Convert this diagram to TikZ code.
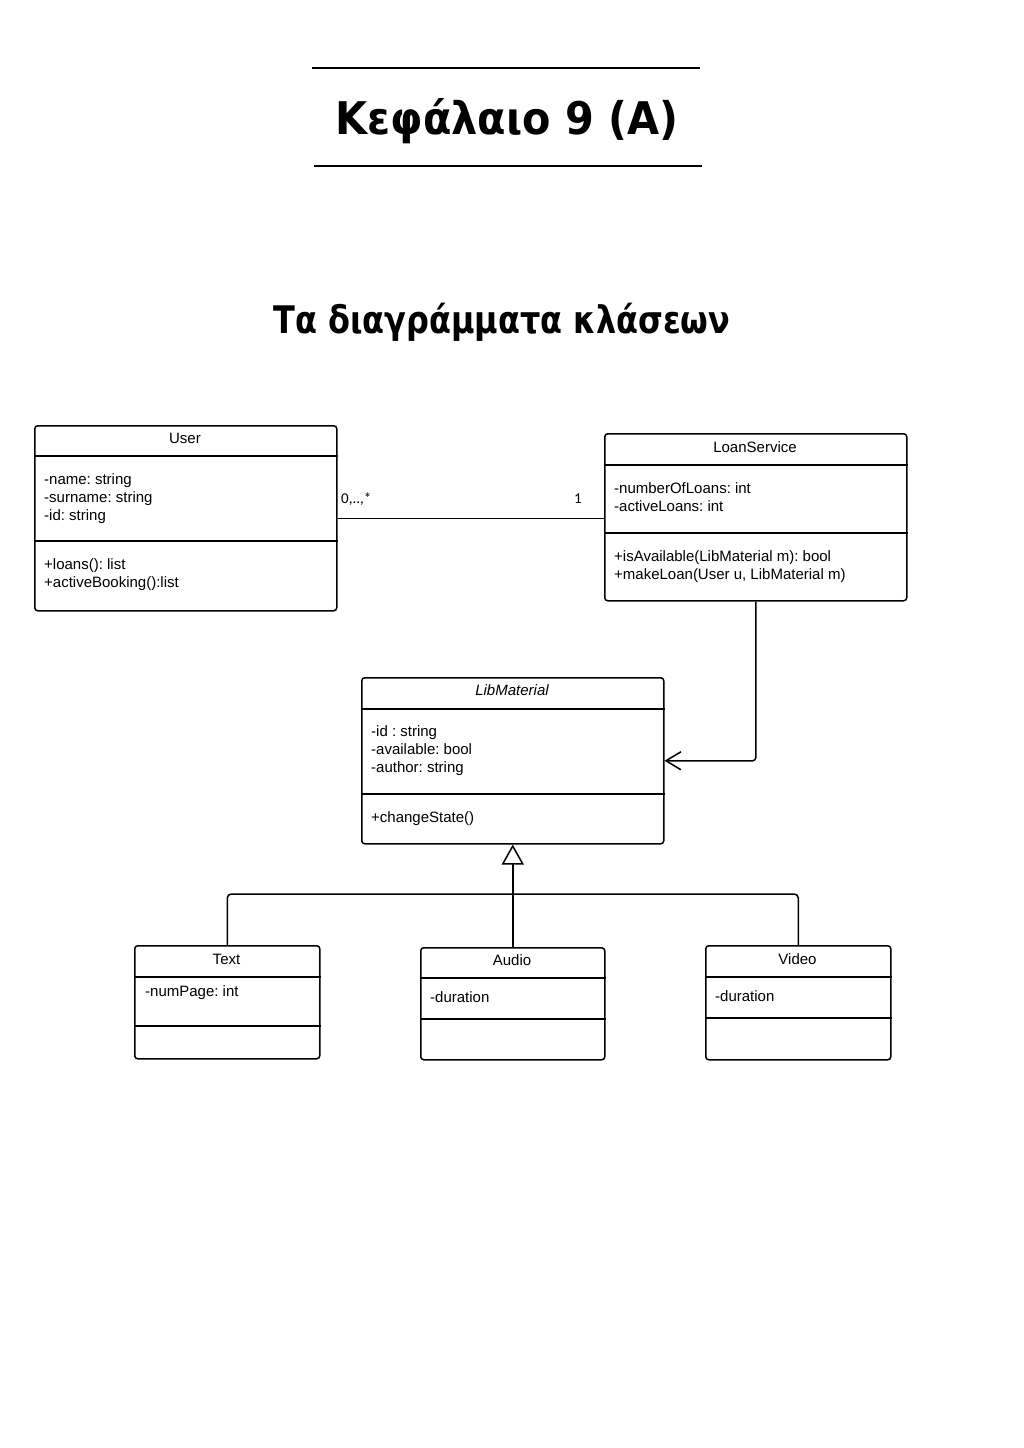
\documentclass[tikz,border=0pt]{standalone}
\usepackage{fontspec}
\setmainfont{Liberation Sans}
\newfontfamily\carl{Carlito}
\newfontfamily\headfont{DejaVu Sans}
\usetikzlibrary{arrows.meta}
\frenchspacing
\newcommand\umlline[3]{\node[txt] (#1) at (#2) {#3};}
\begin{document}
\begin{tikzpicture}[x=1pt,y=-1pt,
  cls/.style={draw, line width=1.5pt, rounded corners=3pt, inner sep=0pt, anchor=north west},
  txt/.style={anchor=base west, inner sep=0pt, font=\fontsize{15}{18}\selectfont},
  ttl/.style={anchor=base, inner sep=0pt, font=\fontsize{15}{18}\selectfont},
  sep/.style={line width=1.5pt},
  conn/.style={line width=1.5pt},
  mult/.style={anchor=base west, inner sep=0pt, font=\carl\fontsize{15}{18}\selectfont}]
\useasboundingbox[fill=white] (0,0) rectangle (1024,1448);

% Headings
\coordinate (hl1a) at (312,68); \coordinate (hl1b) at (700,68);
\coordinate (hl2a) at (314,166); \coordinate (hl2b) at (702,166);
\draw[line width=1.2pt] (hl1a) -- (hl1b);
\draw[line width=1.2pt] (hl2a) -- (hl2b);
\node[anchor=base, inner sep=0pt, font=\headfont\bfseries\fontsize{45}{50}\selectfont] (title) at (507,134) {\scalebox{0.92}[1]{Κεφάλαιο 9 (Α)}};
\node[anchor=base, inner sep=0pt, font=\headfont\bfseries\fontsize{38}{44}\selectfont] (subtitle) at (502,333) {\scalebox{0.84}[1]{Τα διαγράμματα κλάσεων}};

% User
\node[cls, minimum width=302pt, minimum height=185pt] (user) at (34,425) {};
\draw[sep] (user.west |- 0,456) -- (user.east |- 0,456);
\draw[sep] (user.west |- 0,541) -- (user.east |- 0,541);
\node[ttl] (userT) at (185,443) {User};
\umlline{u1}{44,484}{-name: string}
\umlline{u2}{44,502}{-surname: string}
\umlline{u3}{44,520}{-id: string}
\umlline{u4}{44,569}{+loans(): list}
\umlline{u5}{44,587}{+activeBooking():list}

% LoanService
\node[cls, minimum width=302pt, minimum height=167pt] (loan) at (604,433) {};
\draw[sep] (loan.west |- 0,465) -- (loan.east |- 0,465);
\draw[sep] (loan.west |- 0,533) -- (loan.east |- 0,533);
\node[ttl] (loanT) at (755,452) {LoanService};
\umlline{l1}{614,493}{-numberOfLoans: int}
\umlline{l2}{614,511}{-activeLoans: int}
\umlline{l3}{614,561}{+isAvailable(LibMaterial m): bool}
\umlline{l4}{614,579}{+makeLoan(User u, LibMaterial m)}

% LibMaterial
\node[cls, minimum width=302pt, minimum height=166pt] (lib) at (361,677) {};
\draw[sep] (lib.west |- 0,709) -- (lib.east |- 0,709);
\draw[sep] (lib.west |- 0,794) -- (lib.east |- 0,794);
\node[ttl, font=\itshape\fontsize{15}{18}\selectfont] (libT) at (512,695) {LibMaterial};
\umlline{m1}{371,736}{-id : string}
\umlline{m2}{371,754}{-available: bool}
\umlline{m3}{371,772}{-author: string}
\umlline{m4}{371,822}{+changeState()}

% Text
\node[cls, minimum width=185pt, minimum height=113pt] (text) at (134,945) {};
\draw[sep] (text.west |- 0,977) -- (text.east |- 0,977);
\draw[sep] (text.west |- 0,1026) -- (text.east |- 0,1026);
\node[ttl] (textT) at (226.5,964) {Text};
\umlline{t1}{145,996}{-numPage: int}

% Audio
\node[cls, minimum width=184pt, minimum height=112pt] (audio) at (420,947) {};
\draw[sep] (audio.west |- 0,978) -- (audio.east |- 0,978);
\draw[sep] (audio.west |- 0,1019) -- (audio.east |- 0,1019);
\node[ttl] (audioT) at (512,965) {Audio};
\umlline{a1}{430,1002}{-duration}

% Video
\node[cls, minimum width=185pt, minimum height=114pt] (video) at (705,945) {};
\draw[sep] (video.west |- 0,977) -- (video.east |- 0,977);
\draw[sep] (video.west |- 0,1018) -- (video.east |- 0,1018);
\node[ttl] (videoT) at (797.5,964) {Video};
\umlline{v1}{715,1001}{-duration}

% Association
\draw[conn] (user.east) -- (user.east -| loan.west);
\node[mult] (m0) at (341,503) {0,..,*};
\node[mult] (m1) at (574,503) {1};

% Dependency
\draw[conn, rounded corners=3pt, -{Straight Barb[length=15pt,width=18pt,line width=1.5pt]}] (loan.south) |- (lib.east);

% Generalization
\coordinate (junc) at (512,894);
\draw[conn, -{Triangle[open,length=20pt,width=22pt,line width=1.5pt,fill=white]}] (audio.north) -- (lib.south);
\draw[conn, rounded corners=4pt] (text.north) |- (junc);
\draw[conn, rounded corners=4pt] (video.north) |- (junc);
\end{tikzpicture}
\end{document}
